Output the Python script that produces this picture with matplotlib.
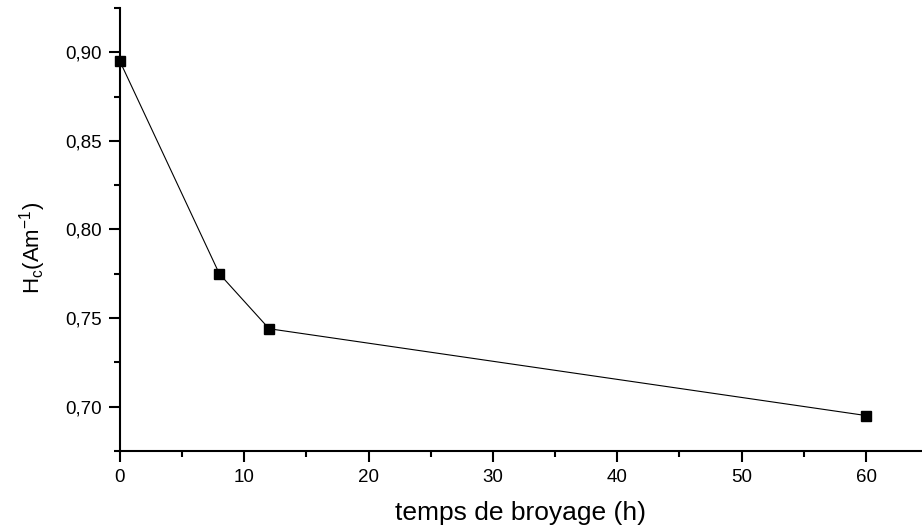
import matplotlib
matplotlib.use("Agg")
import matplotlib.pyplot as plt
from matplotlib.ticker import MultipleLocator, FuncFormatter

# temps de broyage (h) et champ coercitif
temps = [0, 8, 12, 60]
hc = [0.895, 0.775, 0.744, 0.695]

plt.rcParams['font.family'] = ['Liberation Sans', 'DejaVu Sans']

fig = plt.figure(figsize=(9.22, 5.26), dpi=100)
ax = fig.add_axes([0.130, 0.1426, 0.870, 0.8422])

ax.plot(temps, hc, color='black', lw=0.8, marker='s', ms=6.5, mfc='black', mec='black',
        clip_on=False)

ax.set_xlim(0, 64.5)
ax.set_ylim(0.675, 0.925)
ax.xaxis.set_major_locator(MultipleLocator(10))
ax.xaxis.set_minor_locator(MultipleLocator(5))
ax.yaxis.set_major_locator(MultipleLocator(0.05))
ax.yaxis.set_minor_locator(MultipleLocator(0.025))
ax.yaxis.set_major_formatter(FuncFormatter(lambda v, p: ("%.2f" % v).replace(".", ",")))

for s in ['top', 'right']:
    ax.spines[s].set_visible(False)
for s in ['left', 'bottom']:
    ax.spines[s].set_linewidth(1.5)
ax.tick_params(which='major', direction='out', length=8, width=1.5, labelsize=13.5, pad=5)
ax.tick_params(which='minor', direction='out', length=4.5, width=1.5)

ax.set_xlabel('temps de broyage (h)', fontsize=19)
ax.xaxis.set_label_coords(0.5, -0.112)
ax.xaxis.label.set_va('top')
ax.set_ylabel(r'H$_\mathregular{c}$(Am$^\mathregular{-1}$)', fontsize=16)
ax.yaxis.set_label_coords(-0.09, 0.458)

fig.savefig('out.png', dpi=100)
